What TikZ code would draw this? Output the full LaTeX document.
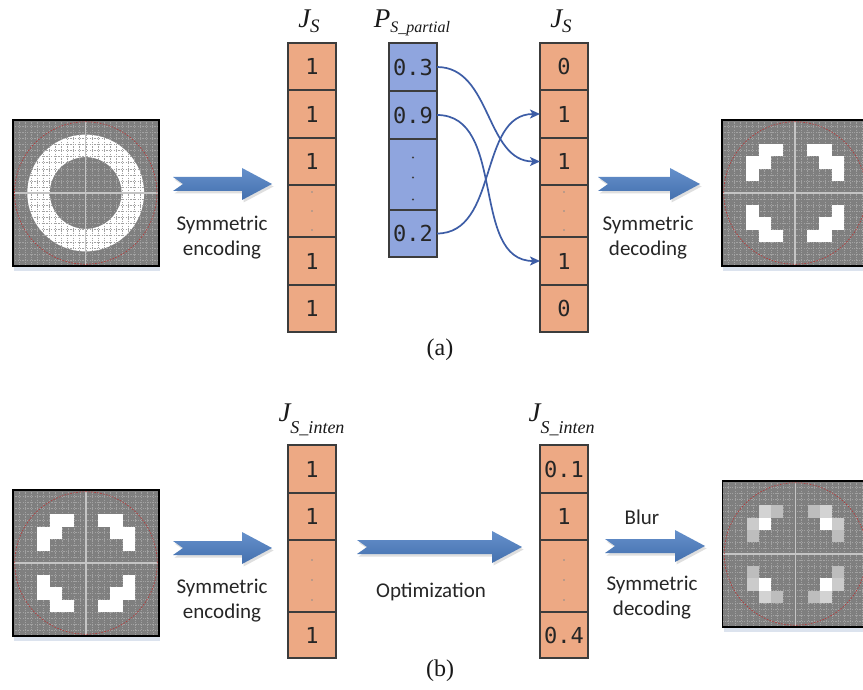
\documentclass[tikz,border=0pt]{standalone}
\usepackage{fontspec}
\setmainfont{Liberation Serif}
\newfontfamily\timesf{Liberation Serif}
\newfontfamily\calib{Carlito}
\newfontfamily\monof{DejaVu Sans Mono}
\usetikzlibrary{arrows.meta,shadows}
\definecolor{cellor}{HTML}{EDA984}
\definecolor{cellbl}{HTML}{8FA5DE}
\definecolor{cellln}{HTML}{3C3C3C}
\definecolor{arrtop}{HTML}{6590CB}
\definecolor{arrbot}{HTML}{4470AE}
\definecolor{curvbl}{HTML}{3D5DA6}
\definecolor{imggray}{HTML}{7F7F7F}
\definecolor{gridln}{HTML}{A2A2A2}
\definecolor{midln}{HTML}{C4C4C4}
\definecolor{redc}{HTML}{B23A3A}
\definecolor{imgshadow}{HTML}{DCE3EE}
\definecolor{gA}{HTML}{D3D3D3}
\definecolor{gB}{HTML}{BDBDBD}
\definecolor{gC}{HTML}{CBCBCB}

\newcommand{\px}[3]{\fill[#3] (#1,#2) rectangle ++(1,1);}
\newcommand{\Lpat}{%
  \px{3}{2}{white}\px{4}{2}{white}\px{2}{3}{white}\px{3}{3}{white}\px{2}{4}{white}%
  \px{7}{2}{white}\px{8}{2}{white}\px{8}{3}{white}\px{9}{3}{white}\px{9}{4}{white}%
  \px{2}{7}{white}\px{2}{8}{white}\px{3}{8}{white}\px{3}{9}{white}\px{4}{9}{white}%
  \px{9}{7}{white}\px{8}{8}{white}\px{9}{8}{white}\px{7}{9}{white}\px{8}{9}{white}}
\newcommand{\Bpat}{%
  \px{3}{2}{gA}\px{4}{2}{gB}\px{2}{3}{gC}\px{3}{3}{white}\px{2}{4}{gB}%
  \px{7}{2}{gB}\px{8}{2}{gA}\px{8}{3}{white}\px{9}{3}{gC}\px{9}{4}{gB}%
  \px{2}{7}{gB}\px{2}{8}{gC}\px{3}{8}{white}\px{3}{9}{gA}\px{4}{9}{gB}%
  \px{9}{7}{gB}\px{8}{8}{white}\px{9}{8}{gC}\px{7}{9}{gB}\px{8}{9}{gA}}
\newcommand{\Rpat}{\fill[white,even odd rule] (6,6) circle[radius=58.4pt] (6,6) circle[radius=35.9pt];}

% x, y, drawn under the grid, drawn over the grid
\newcommand{\gridimg}[4]{%
\begin{scope}[shift={(#1,#2)},x=12.1667pt,y=-12.1667pt]
\fill[imgshadow] (0.1,0.35) rectangle (12.1,12.45);
\fill[imggray] (0,0) rectangle (12,12);
#3
\foreach \k in {0.5,1,...,11.5}{\draw[gridln,line width=0.3pt,dash pattern=on 1.2pt off 1.2pt] (\k,0) -- (\k,12) (0,\k) -- (12,\k);}
#4
\draw[midln,line width=1.2pt] (6,0) -- (6,12) (0,6) -- (12,6);
\draw[redc,line width=0.7pt,dash pattern=on 1.6pt off 1.4pt] (6,6) circle[radius=71.2pt];
\draw[black,line width=1.6pt] (0,0) rectangle (12,12);
\end{scope}}

\newcommand{\blkarrow}[3]{% x0, x1, y
  \path[barrow] (#1,#3-7) -- (#2-30,#3-7) -- (#2-30,#3-16) -- (#2,#3) -- (#2-30,#3+16) -- (#2-30,#3+7) -- (#1,#3+7) -- (#1+10,#3) -- cycle;}

\tikzset{
  cellbase/.style={draw=cellln, line width=1.2pt, minimum width=48pt, inner sep=0pt, outer sep=0pt, font=\monof\fontsize{22}{22}\selectfont, text=black!85},
  ocell/.style={cellbase, fill=cellor},
  bcell/.style={cellbase, fill=cellbl},
  lbl/.style={font=\calib\fontsize{21}{25}\selectfont, align=center, text=black!85, inner sep=0pt},
  hdr/.style={font=\timesf\fontsize{27}{27}\selectfont\itshape, inner sep=0pt, anchor=base, text=black!90},
  captxt/.style={font=\timesf\fontsize{24}{24}\selectfont, inner sep=0pt, text=black!90},
  conn/.style={draw=curvbl, line width=1.7pt, -{Stealth[length=10pt,width=9pt,inset=2.5pt]}},
  barrow/.style={top color=arrtop, bottom color=arrbot, drop shadow={opacity=0.25, shadow xshift=1.5pt, shadow yshift=-2.5pt}},
  odot/.style={fill=black!45},
  bdot/.style={fill=black!75}
}

\begin{document}
\begin{tikzpicture}[x=1pt,y=-1pt]
\useasboundingbox (0,0) rectangle (863,690);
\fill[white] (0,0) rectangle (863,690);
\clip (0,0) rectangle (863,690);

% ---------- images ----------
\gridimg{12.7}{120}{\Rpat}{}
\gridimg{722}{120}{}{\Lpat}
\gridimg{13}{490}{}{\Lpat}
\gridimg{722.5}{481}{}{\Bpat}

% ---------- block arrows ----------
\blkarrow{173}{272}{184}
\blkarrow{598}{700}{184}
\blkarrow{173}{272}{548}
\blkarrow{357}{522}{547}
\blkarrow{605}{705}{546}

% ---------- labels ----------
\node[lbl] (t1) at (222,237.5) {Symmetric\\encoding};
\node[lbl] (t2) at (648,237.5) {Symmetric\\decoding};
\node[lbl] (t3) at (222,600.5) {Symmetric\\encoding};
\node[lbl] (t4) at (431,592) {Optimization};
\node[lbl] (t5) at (642,517) {Blur};
\node[lbl] (t6) at (652,597.5) {Symmetric\\decoding};

% ---------- (a) columns ----------
\node[hdr] (hA1) at (309,28) {J\raisebox{-5pt}{\fontsize{19}{19}\selectfont S}};
\node[hdr] (hA2) at (412,28) {P\raisebox{-5pt}{\fontsize{16}{16}\selectfont S\_partial}};
\node[hdr] (hA3) at (561,28) {J\raisebox{-5pt}{\fontsize{19}{19}\selectfont S}};

\node[ocell, minimum height=47pt] (a1) at (312,66.5) {1};
\node[ocell, minimum height=48pt] (a2) at (312,114) {1};
\node[ocell, minimum height=47pt] (a3) at (312,161.5) {1};
\node[ocell, minimum height=52pt] (a4) at (312,211) {};
\node[ocell, minimum height=48pt] (a5) at (312,261) {1};
\node[ocell, minimum height=47pt] (a6) at (312,308.5) {1};

\node[bcell, minimum height=48pt] (p1) at (413,67) {0.3};
\node[bcell, minimum height=48pt] (p2) at (413,115) {0.9};
\node[bcell, minimum height=71pt] (p3) at (413,174.5) {};
\node[bcell, minimum height=47pt] (p4) at (413,233.5) {0.2};

\node[ocell, minimum height=47pt] (r1) at (564,66.5) {0};
\node[ocell, minimum height=48pt] (r2) at (564,114) {1};
\node[ocell, minimum height=47pt] (r3) at (564,161.5) {1};
\node[ocell, minimum height=52pt] (r4) at (564,211) {};
\node[ocell, minimum height=48pt] (r5) at (564,261) {1};
\node[ocell, minimum height=47pt] (r6) at (564,308.5) {0};

\foreach \d in {-19,0,19}{
  \fill[odot] (a4.center) ++(0,\d) circle[radius=0.9pt];
  \fill[odot] (r4.center) ++(0,\d) circle[radius=0.9pt];
}
\foreach \d in {-17,3,25}{
  \fill[bdot] (p3.center) ++(0,\d) circle[radius=1.2pt];
}

\draw[conn] (p1.east) to[out=0,in=180] (r3.west);
\draw[conn] (p2.east) to[out=0,in=180] (r5.west);
\draw[conn] (p4.east) to[out=0,in=180] (r2.west);

\node[captxt] (capa) at (440,349.5) {(a)};

% ---------- (b) columns ----------
\node[hdr] (hB1) at (311.5,421) {J\raisebox{-12pt}{\fontsize{18}{18}\selectfont S\_inten}};
\node[hdr] (hB2) at (561.5,421) {J\raisebox{-12pt}{\fontsize{18}{18}\selectfont S\_inten}};

\node[ocell, minimum height=48pt] (b1) at (312,469) {1};
\node[ocell, minimum height=47pt] (b2) at (312,516.5) {1};
\node[ocell, minimum height=72pt] (b3) at (312,576) {};
\node[ocell, minimum height=46pt] (b4) at (312,635) {1};

\node[ocell, minimum height=48pt] (c1) at (564,469) {0.1};
\node[ocell, minimum height=47pt] (c2) at (564,516.5) {1};
\node[ocell, minimum height=72pt] (c3) at (564,576) {};
\node[ocell, minimum height=46pt] (c4) at (564,635) {0.4};

\foreach \d in {-16,4,24}{
  \fill[odot] (b3.center) ++(0,\d) circle[radius=0.9pt];
  \fill[odot] (c3.center) ++(0,\d) circle[radius=0.9pt];
}

\node[captxt] (capb) at (440,671) {(b)};
\end{tikzpicture}
\end{document}
